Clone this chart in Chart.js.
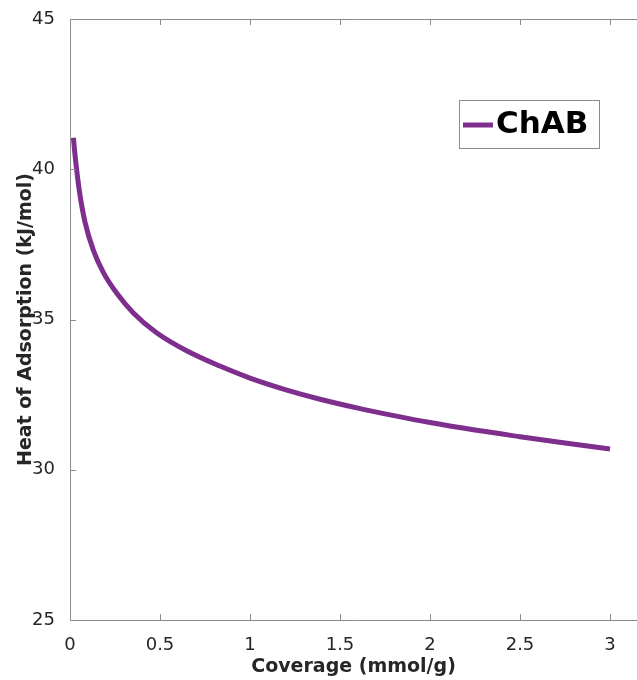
<!DOCTYPE html>
<html>
<head>
<meta charset="utf-8">
<script src="https://cdn.jsdelivr.net/npm/chart.js@4.4.0/dist/chart.umd.min.js"></script>
<style>
    html, body { margin: 0; padding: 0; background: #fff; overflow: hidden; }
    #wrap { width: 637px; height: 680px; }
</style>
</head>
<body>
<div id="wrap"><canvas id="heatChart" width="637" height="680"></canvas></div>
<script>
// --- Data ---
const coverage = [0.019, 0.025, 0.037, 0.056, 0.083, 0.13, 0.185, 0.259, 0.352, 0.481, 0.648, 0.833, 1.0, 1.2, 1.4, 1.6, 1.8, 2.0, 2.25, 2.5, 2.75, 3.0];
const heat = [41.05, 40.65, 39.98, 39.12, 38.25, 37.3, 36.57, 35.88, 35.22, 34.56, 33.96, 33.45, 33.05, 32.66, 32.33, 32.05, 31.8, 31.57, 31.32, 31.1, 30.89, 30.69];
const seriesName = 'ChAB';
const xTicks = [0, 0.5, 1, 1.5, 2, 2.5, 3];
const yTicks = [25, 30, 35, 40, 45];

const lineColor = '#7E2F8E';
const axisColor = '#8c8c8c';
const textColor = '#262626';
const fontFamily = '"DejaVu Sans", "Liberation Sans", Arial, sans-serif';

// --- Frame, inward ticks and boxed legend (MATLAB look) ---
const framePlugin = {
    id: 'frame',
    afterDraw(chart) {
        const { ctx, chartArea: a, scales } = chart;
        const tick = 6;
        ctx.save();
        ctx.strokeStyle = axisColor;
        ctx.lineWidth = 1;
        ctx.beginPath();
        ctx.moveTo(a.right + 1, a.top + 0.5);
        ctx.lineTo(a.left + 0.5, a.top + 0.5);
        ctx.lineTo(a.left + 0.5, a.bottom + 0.5);
        ctx.lineTo(a.right + 1, a.bottom + 0.5);
        xTicks.forEach(v => {
            const px = Math.round(scales.x.getPixelForValue(v)) + 0.5;
            ctx.moveTo(px, a.bottom);
            ctx.lineTo(px, a.bottom - tick);
            ctx.moveTo(px, a.top);
            ctx.lineTo(px, a.top + tick);
        });
        yTicks.forEach(v => {
            const py = Math.round(scales.y.getPixelForValue(v)) + 0.5;
            ctx.moveTo(a.left, py);
            ctx.lineTo(a.left + tick, py);
        });
        ctx.stroke();

        // legend box
        const ds = chart.data.datasets[0];
        const bx = 459, by = 100, bw = 140, bh = 48;
        ctx.fillStyle = '#fff';
        ctx.fillRect(bx, by, bw, bh);
        ctx.strokeStyle = '#8c8c8c';
        ctx.strokeRect(bx + 0.5, by + 0.5, bw, bh);
        ctx.strokeStyle = ds.borderColor;
        ctx.lineWidth = 5;
        ctx.beginPath();
        ctx.moveTo(bx + 4, by + 25);
        ctx.lineTo(bx + 34, by + 25);
        ctx.stroke();
        ctx.fillStyle = '#000';
        ctx.font = 'bold 31px ' + fontFamily;
        ctx.textBaseline = 'middle';
        ctx.fillText(ds.label, bx + 37, by + 25);
        ctx.restore();
    }
};

const ctx = document.getElementById('heatChart').getContext('2d');
new Chart(ctx, {
    type: 'line',
    data: {
        datasets: [{
            label: seriesName,
            data: coverage.map((c, i) => ({ x: c, y: heat[i] })),
            borderColor: lineColor,
            borderWidth: 5,
            pointRadius: 0,
            fill: false,
            cubicInterpolationMode: 'monotone'
        }]
    },
    options: {
        responsive: false,
        animation: false,
        layout: { padding: { top: 19, right: 0, left: 0, bottom: 0 } },
        plugins: {
            legend: { display: false },
            tooltip: { enabled: false }
        },
        scales: {
            x: {
                type: 'linear',
                min: 0,
                max: 3.15,
                afterFit: (s) => { s.height = 60; },
                afterBuildTicks: (s) => { s.ticks = xTicks.map(v => ({ value: v })); },
                grid: { display: false },
                border: { display: false },
                ticks: {
                    includeBounds: false,
                    padding: 7,
                    color: textColor,
                    font: { family: fontFamily, size: 18 },
                    maxRotation: 0,
                    callback: (v) => String(v)
                },
                title: {
                    display: true,
                    text: 'Coverage (mmol/g)',
                    color: textColor,
                    font: { family: fontFamily, size: 19, weight: 'bold' },
                    padding: { top: 0, bottom: 2 }
                }
            },
            y: {
                min: 25,
                max: 45,
                afterFit: (s) => { s.width = 70; },
                afterBuildTicks: (s) => { s.ticks = yTicks.map(v => ({ value: v })); },
                grid: { display: false },
                border: { display: false },
                ticks: {
                    padding: 7,
                    color: textColor,
                    font: { family: fontFamily, size: 18 }
                },
                title: {
                    display: true,
                    text: 'Heat of Adsorption (kJ/mol)',
                    color: textColor,
                    font: { family: fontFamily, size: 19, weight: 'bold' },
                    padding: { top: 15, bottom: 0 }
                }
            }
        }
    },
    plugins: [framePlugin]
});
</script>
</body>
</html>
